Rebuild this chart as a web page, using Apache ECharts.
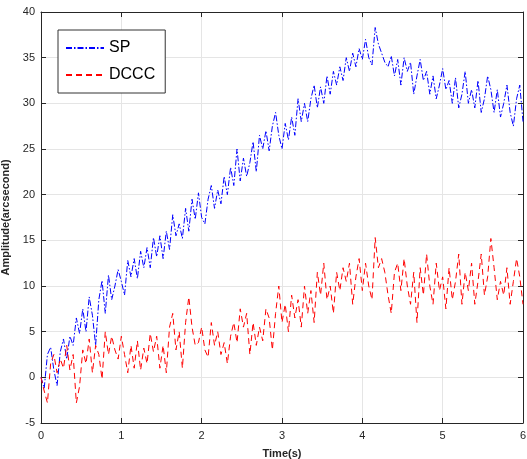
<!DOCTYPE html>
<html>
<head>
<meta charset="utf-8">
<script src="https://cdn.jsdelivr.net/npm/echarts@6/dist/echarts.min.js"></script>
<style>html,body{margin:0;padding:0;background:#fff}#c{width:527px;height:459px}</style>
</head>
<body>
<div id="c"></div>
<script>
var timeStep = 0.04;
var spValues = [0,-1.2,2.5,3.3,0.8,-0.9,2.8,4.2,2.0,4.5,3.5,6.5,4.8,7.5,5.0,8.8,6.8,3.5,8.5,10.6,
7.0,11.2,8.5,10.0,11.8,10.5,9.0,12.8,11.0,13.0,10.8,13.8,12.0,14.2,12.0,15.3,13.2,15.5,13.0,16.0,
14.0,17.8,15.5,16.8,15.2,18.5,16.0,19.5,17.3,20.2,17.5,16.8,19.5,21.0,18.5,20.5,19.0,22.0,20.0,23.0,
21.0,25.0,21.5,24.0,22.0,23.5,25.8,22.5,26.5,25.0,27.0,24.8,27.5,29.0,26.5,25.0,27.8,26.0,28.5,26.5,
30.5,28.0,30.0,28.0,30.5,32.0,29.5,31.8,30.0,33.0,31.0,33.5,32.0,34.0,32.5,35.0,33.5,35.5,34.0,36.0,
34.8,37.0,35.0,34.2,38.3,36.5,35.5,34.5,34.0,35.2,33.0,34.8,32.0,35.0,33.5,34.5,31.0,33.0,34.8,32.5,
33.5,31.0,33.0,30.5,32.0,33.8,31.5,32.5,30.0,32.8,29.5,31.0,33.5,30.0,31.5,29.5,32.5,29.0,30.5,33.0,
31.5,29.0,31.5,28.5,30.0,32.0,29.0,27.5,30.5,32.0,28.0];
var dcccValues = [0,-1.5,-2.8,1.5,2.5,0.5,2.0,1.0,3.5,0.8,2.5,-2.8,-1.0,3.0,1.5,4.2,0.5,3.5,2.5,-0.2,
5.0,2.5,4.5,3.0,2.0,4.5,2.5,0.5,3.5,1.0,4.0,0.8,3.2,1.5,4.8,2.8,4.5,1.0,3.5,0.5,
5.5,7.0,3.0,5.0,1.0,6.0,8.8,5.5,3.5,3.8,5.5,3.0,2.2,6.0,3.5,5.0,2.5,3.8,1.5,4.5,
6.0,3.8,7.5,5.5,7.0,2.5,6.0,3.5,5.5,4.0,7.5,6.5,3.0,7.0,10.0,6.0,8.0,5.0,9.0,6.5,
8.5,5.5,10.0,7.0,9.5,6.0,11.5,9.0,12.5,8.5,10.0,7.0,11.5,9.5,12.0,10.5,12.5,8.0,11.0,13.0,
9.5,12.5,10.0,8.5,15.3,12.0,13.0,11.5,9.0,7.0,11.5,12.5,9.5,13.0,10.0,8.0,11.5,6.0,12.0,9.0,
13.5,10.0,8.0,12.5,9.5,11.0,7.5,12.0,8.5,10.5,13.5,8.0,11.5,9.5,12.5,8.0,10.5,13.5,9.0,11.0,
15.2,12.0,8.5,10.5,9.0,12.0,8.0,10.5,13.0,11.0,8.0];
var seriesNames = ['SP', 'DCCC'];
var xTicks = [0,1,2,3,4,5,6];
var yTicks = [-5,0,5,10,15,20,25,30,35,40];

function pairs(vals){ return vals.map(function(v,i){ return [+(i*timeStep).toFixed(2), v]; }); }

var chart = echarts.init(document.getElementById('c'), null, {renderer:'canvas'});
var axisCol = '#262626';
var font = 'Liberation Sans, Arial, Helvetica, sans-serif';
var baseX = {
  type:'value', min:xTicks[0], max:xTicks[xTicks.length-1], interval:1,
  axisLine:{show:true,onZero:false,lineStyle:{color:axisCol,width:1}},
  axisTick:{show:true,inside:true,length:5,lineStyle:{color:axisCol}},
  splitLine:{show:false}
};
var baseY = {
  type:'value', min:yTicks[0], max:yTicks[yTicks.length-1], interval:5,
  axisLine:{show:true,onZero:false,lineStyle:{color:axisCol,width:1}},
  axisTick:{show:true,inside:true,length:5,lineStyle:{color:axisCol}},
  splitLine:{show:false}
};
chart.setOption({
  animation:false,
  backgroundColor:'#fff',
  grid:{left:41,right:4,top:12,bottom:36,containLabel:false,outerBoundsMode:'none'},
  legend:{
    orient:'vertical', left:58, top:30,
    data:[
      {name:seriesNames[0], itemStyle:{opacity:0}},
      {name:seriesNames[1], itemStyle:{opacity:0}}
    ],
    backgroundColor:'#fff', borderColor:'#333', borderWidth:1,
    padding:[10,10,10,7], itemGap:11, itemWidth:38, itemHeight:16,
    textStyle:{fontFamily:font,fontSize:16,color:'#000'}
  },
  xAxis:[
    Object.assign({}, baseX, {
      position:'bottom',
      name:'Time(s)', nameLocation:'middle', nameGap:25,
      nameTextStyle:{fontFamily:font,fontSize:11,fontWeight:'bold',color:axisCol},
      axisLabel:{show:true,fontFamily:font,fontSize:11,color:axisCol,margin:7},
      splitLine:{show:true,lineStyle:{color:'#e5e5e5',width:1}}
    }),
    Object.assign({}, baseX, {position:'top', axisLabel:{show:false}})
  ],
  yAxis:[
    Object.assign({}, baseY, {
      position:'left',
      name:'Amplitude(arcsecond)', nameLocation:'middle', nameGap:28, nameRotate:90,
      nameTextStyle:{fontFamily:font,fontSize:11,fontWeight:'bold',color:axisCol},
      axisLabel:{show:true,fontFamily:font,fontSize:11,color:axisCol,margin:6},
      splitLine:{show:true,lineStyle:{color:'#e5e5e5',width:1}}
    }),
    Object.assign({}, baseY, {position:'right', axisLabel:{show:false}})
  ],
  series:[
    {name:seriesNames[0], type:'line', data:pairs(spValues), showSymbol:false, symbol:'none',
     lineStyle:{color:'#0000ff',width:1,type:[6,2,1.5,2]}, itemStyle:{color:'#0000ff'}},
    {name:seriesNames[1], type:'line', data:pairs(dcccValues), showSymbol:false, symbol:'none',
     lineStyle:{color:'#ff0000',width:1,type:[6,4]}, itemStyle:{color:'#ff0000'}}
  ]
});
</script>
</body>
</html>
